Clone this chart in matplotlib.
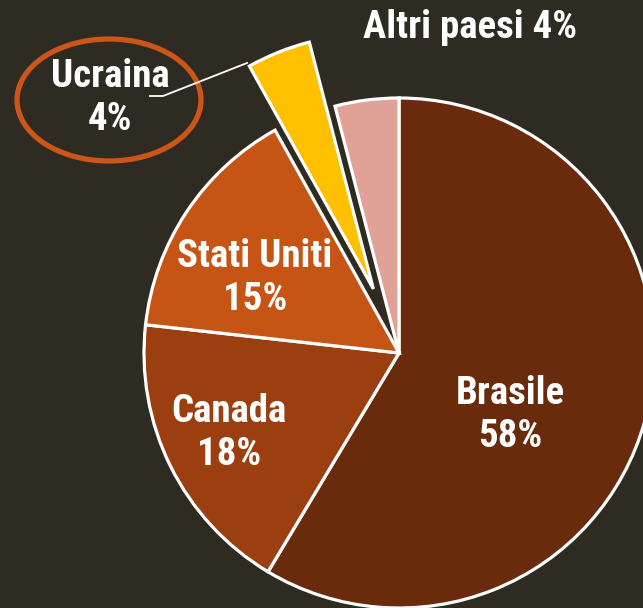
import matplotlib
matplotlib.use("Agg")
import matplotlib.pyplot as plt
from matplotlib.patches import Ellipse

# data
paesi = ["Brasile", "Canada", "Stati Uniti", "Ucraina", "Altri paesi"]
quote = [58, 18, 15, 4, 4]
colori = ["#692b0b", "#9c3f10", "#c65414", "#ffc000", "#e0a196"]
esplodi = [0, 0, 0, 69, 0]

bg = "#2e2c22"
plt.rcParams["font.family"] = ["Roboto Condensed", "PT Sans Narrow", "DejaVu Sans"]

fig = plt.figure(figsize=(6.43, 6.08), dpi=100, facecolor=bg)
ax = fig.add_axes([0, 0, 1, 1])
ax.set_facecolor(bg)

# pie centre in pixel coords (y up)
cx, cy, r = 399, 255, 255
ax.pie(quote, colors=colori, explode=esplodi, startangle=90, counterclock=False,
       center=(cx, cy), radius=r, frame=True,
       wedgeprops=dict(edgecolor="white", linewidth=2.3))
ax.set_xlim(0, 643)
ax.set_ylim(0, 608)
ax.set_aspect("equal")
ax.axis("off")

txt = dict(color="white", fontsize=28, fontweight="bold", ha="center", va="center",
           linespacing=1.2)
ax.text(510, 608 - 415, f"{paesi[0]}\n{quote[0]}%", **txt)
ax.text(229, 608 - 433, f"{paesi[1]}\n{quote[1]}%", **txt)
ax.text(255, 608 - 278, f"{paesi[2]}\n{quote[2]}%", **txt)
ax.text(110, 608 - 98, f"{paesi[3]}\n{quote[3]}%", **txt)
ax.text(470, 608 - 27, f"{paesi[4]} {quote[4]}%", **txt)

# highlight ellipse and leader line for Ucraina
ax.add_patch(Ellipse((109, 608 - 100), 184, 122, fill=False, edgecolor="#cc5518", linewidth=3.8))
ax.plot([150, 163, 247], [608 - 96, 608 - 96, 608 - 63], color="white", linewidth=1.3)

fig.savefig("out.png", dpi=100, facecolor=bg)
